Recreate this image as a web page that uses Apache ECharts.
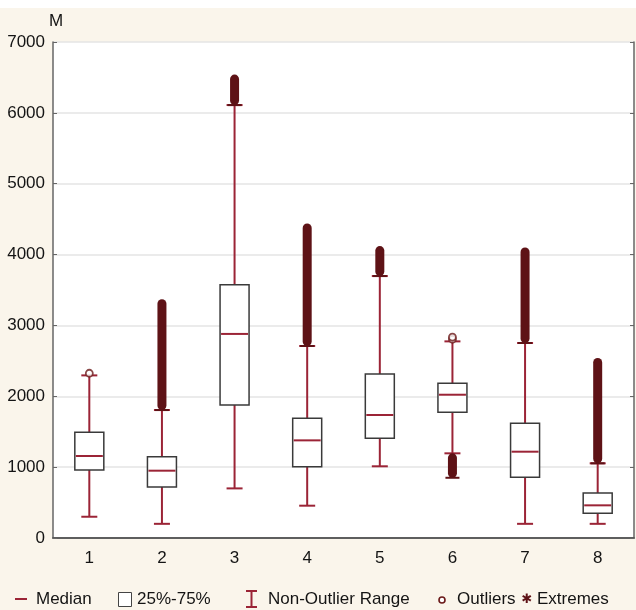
<!DOCTYPE html>
<html><head><meta charset="utf-8">
<script src="https://cdn.jsdelivr.net/npm/echarts@6/dist/echarts.min.js"></script>
<style>html,body{margin:0;padding:0;background:#fff}#c{width:636px;height:610px}</style>
</head><body><div id="c"></div>
<script>
const categories = ['1','2','3','4','5','6','7','8'];
const whiskerLow  = [300, 200, 700, 456, 1012, 1195, 200, 200];
const q1          = [960, 720, 1877, 1006, 1407, 1774, 856, 348];
const median      = [1157, 950, 2880, 1378, 1736, 2022, 1218, 461];
const q3          = [1492, 1148, 3575, 1689, 2314, 2183, 1619, 635];
const whiskerHigh = [2295, 1806, 6110, 2710, 3697, 2775, 2752, 1054];
const extremeLow  = [null, 1806, 6110, 2710, 3697, 850, 2752, 1054];
const extremeHigh = [null, 3370, 6540, 4440, 4120, 1195, 4100, 2540];
const outliers    = [[0, 2325], [5, 2805], [5, 2835]];
const yTicks = [0, 1000, 2000, 3000, 4000, 5000, 6000, 7000];

const RED = '#9b2436', BOXBORDER = '#3a3a3a', DARK = '#5e1216', TXT = '#141414';
const FONT = '"Liberation Sans", Arial, sans-serif';

const boxData = categories.map((c, i) => [i, whiskerLow[i], q1[i], median[i], q3[i], whiskerHigh[i]]);
const extData = categories.map((c, i) => [i, extremeLow[i], extremeHigh[i]]).filter(r => r[1] != null);

function renderBox(params, api) {
  const i = api.value(0);
  const x = api.coord([i, 0])[0];
  const yl = api.coord([i, api.value(1)])[1];
  const yq1 = api.coord([i, api.value(2)])[1];
  const ym = api.coord([i, api.value(3)])[1];
  const yq3 = api.coord([i, api.value(4)])[1];
  const yh = api.coord([i, api.value(5)])[1];
  const bw = 29, cw = 16;
  const ls = {stroke: RED, lineWidth: 2};
  return {type: 'group', children: [
    {type: 'line', shape: {x1: x, y1: yl, x2: x, y2: yh}, style: ls},
    {type: 'line', shape: {x1: x - cw/2, y1: yl, x2: x + cw/2, y2: yl}, style: ls},
    {type: 'line', shape: {x1: x - cw/2, y1: yh, x2: x + cw/2, y2: yh}, style: ls},
    {type: 'rect', shape: {x: x - bw/2, y: yq3, width: bw, height: yq1 - yq3}, style: {fill: '#fff', stroke: BOXBORDER, lineWidth: 1.5}},
    {type: 'line', shape: {x1: x - bw/2 + 1, y1: ym, x2: x + bw/2 - 1, y2: ym}, style: ls}
  ]};
}
function renderExt(params, api) {
  const i = api.value(0);
  const x = api.coord([i, 0])[0];
  const ylo = api.coord([i, api.value(1)])[1];
  const yhi = api.coord([i, api.value(2)])[1];
  const w = 9;
  return {type: 'group', children: [
    {type: 'rect', shape: {x: x - w/2, y: yhi, width: w, height: ylo - yhi, r: w/2}, style: {fill: DARK}},
    {type: 'line', shape: {x1: x - 7, y1: ylo, x2: x + 7, y2: ylo}, style: {stroke: DARK, lineWidth: 2}}
  ]};
}

const axisTxt = {color: TXT, fontSize: 17, fontFamily: FONT};
const chart = echarts.init(document.getElementById('c'), null, {renderer: 'canvas'});
const LY = 599;
chart.setOption({
  backgroundColor: '#faf5eb',
  animation: false,
  grid: {left: 53, right: 2, top: 42, bottom: 72, show: true, backgroundColor: '#fff', borderWidth: 0},
  xAxis: [
    {type: 'category', data: categories, boundaryGap: true, position: 'bottom',
     axisLine: {lineStyle: {color: '#555', width: 1.5}},
     axisTick: {inside: true, alignWithLabel: true, length: 4, lineStyle: {color: '#555'}},
     axisLabel: Object.assign({margin: 12}, axisTxt), splitLine: {show: false}},
    {type: 'category', data: categories, boundaryGap: true, position: 'top',
     axisLine: {lineStyle: {color: '#555', width: 1.5}},
     axisTick: {inside: true, alignWithLabel: true, length: 4, lineStyle: {color: '#555'}},
     axisLabel: {show: false}, splitLine: {show: false}}
  ],
  yAxis: [
    {type: 'value', min: 0, max: 7000, interval: 1000, position: 'left',
     name: 'M', nameLocation: 'end', nameGap: 12, nameTextStyle: {color: TXT, fontSize: 17, fontFamily: FONT, align: 'left', padding: [0, 0, 0, -4]},
     axisLine: {show: true, lineStyle: {color: '#666', width: 1.5}},
     axisTick: {show: true, inside: true, length: 4, lineStyle: {color: '#666'}},
     axisLabel: Object.assign({margin: 8, formatter: v => String(v)}, axisTxt),
     splitLine: {show: true, lineStyle: {color: '#e4e4e4', width: 1.5}}},
    {type: 'value', min: 0, max: 7000, interval: 1000, position: 'right',
     axisLine: {show: true, lineStyle: {color: '#666', width: 1.5}},
     axisTick: {show: true, inside: true, length: 4, lineStyle: {color: '#666'}},
     axisLabel: {show: false}, splitLine: {show: false}}
  ],
  series: [
    {type: 'custom', name: 'Non-Outlier Range', renderItem: renderBox, data: boxData,
     encode: {x: 0, y: [1, 2, 3, 4, 5]}, z: 2},
    {type: 'custom', name: 'Extremes', renderItem: renderExt, data: extData,
     encode: {x: 0, y: [1, 2]}, z: 3},
    {type: 'scatter', name: 'Outliers', data: outliers, symbol: 'circle', symbolSize: 7,
     itemStyle: {color: '#fff', borderColor: '#6b1a1a', borderWidth: 1.8}, z: 4}
  ],
  graphic: [
    {type: 'rect', left: 0, top: 0, shape: {width: 636, height: 8}, style: {fill: '#fff'}, silent: true},
    {type: 'line', shape: {x1: 15, y1: LY, x2: 27, y2: LY}, style: {stroke: RED, lineWidth: 2}},
    {type: 'text', x: 36, y: LY, style: {text: 'Median', fill: TXT, font: '17px ' + FONT, verticalAlign: 'middle'}},
    {type: 'rect', shape: {x: 118.5, y: 592.5, width: 13, height: 14}, style: {fill: '#fff', stroke: '#444', lineWidth: 1}},
    {type: 'text', x: 137, y: LY, style: {text: '25%-75%', fill: TXT, font: '17px ' + FONT, verticalAlign: 'middle'}},
    {type: 'line', shape: {x1: 251.5, y1: 591, x2: 251.5, y2: 607}, style: {stroke: RED, lineWidth: 2}},
    {type: 'line', shape: {x1: 246, y1: 591, x2: 257, y2: 591}, style: {stroke: RED, lineWidth: 2}},
    {type: 'line', shape: {x1: 246, y1: 607, x2: 257, y2: 607}, style: {stroke: RED, lineWidth: 2}},
    {type: 'text', x: 268, y: LY, style: {text: 'Non-Outlier Range', fill: TXT, font: '17px ' + FONT, verticalAlign: 'middle'}},
    {type: 'circle', shape: {cx: 442, cy: LY + 1, r: 3}, style: {fill: '#fff', stroke: '#6b1a1a', lineWidth: 1.6}},
    {type: 'text', x: 457, y: LY, style: {text: 'Outliers', fill: TXT, font: '17px ' + FONT, verticalAlign: 'middle'}},
    {type: 'text', x: 527, y: LY + 1, style: {text: '✱', fill: DARK, font: 'bold 13px "DejaVu Sans"', align: 'center', verticalAlign: 'middle'}},
    {type: 'text', x: 537, y: LY, style: {text: 'Extremes', fill: TXT, font: '17px ' + FONT, verticalAlign: 'middle'}}
  ]
});
</script></body></html>
